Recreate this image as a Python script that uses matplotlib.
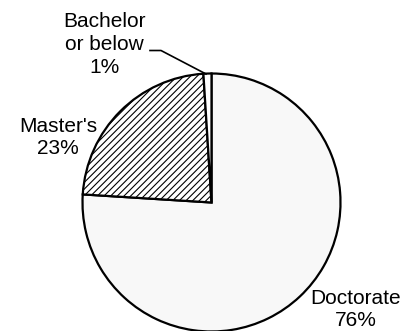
import matplotlib
matplotlib.use("Agg")
import matplotlib.pyplot as plt

labels = ["Doctorate", "Master's", "Bachelor\nor below"]
values = [76, 23, 1]
colors = ["#f8f8f8", "white", "white"]
hatches = ["", "/////", ""]

plt.rcParams['font.family'] = ['Liberation Sans', 'DejaVu Sans']
plt.rcParams['hatch.linewidth'] = 0.8

W, H = 408, 331
fig = plt.figure(figsize=(W / 100, H / 100), dpi=100)
ax = fig.add_axes([0, 0, 1, 1])
R = 129.0
cx, cy = 211.5, 331 - 202.5

wedges, _ = ax.pie(values, startangle=90, counterclock=False, colors=colors,
                   wedgeprops=dict(edgecolor='black', linewidth=1.6))
for w, h in zip(wedges, hatches):
    w.set_hatch(h)

ax.set_xlim(-cx / R, (W - cx) / R)
ax.set_ylim(-cy / R, (H - cy) / R)
ax.set_aspect('equal')
ax.axis('off')

def px(x, y):
    return (x - cx) / R, (H - y - cy) / R

# last-line baseline anchor positions (pixels from top-left)
pos = [(356, 326.5), (58, 154), (104.5, 73)]
lsp = [1.2, 1.2, 1.28]
for lab, v, (x, y), ls in zip(labels, values, pos, lsp):
    tx, ty = px(x, y)
    ax.text(tx, ty, f"{lab}\n{v}%", ha='center', va='baseline', fontsize=15,
            linespacing=ls)

p = [px(150, 50.5), px(161, 50.5), px(206, 74)]
ax.plot([q[0] for q in p], [q[1] for q in p], color='black', lw=1.2)

fig.savefig("out.png", dpi=100)
